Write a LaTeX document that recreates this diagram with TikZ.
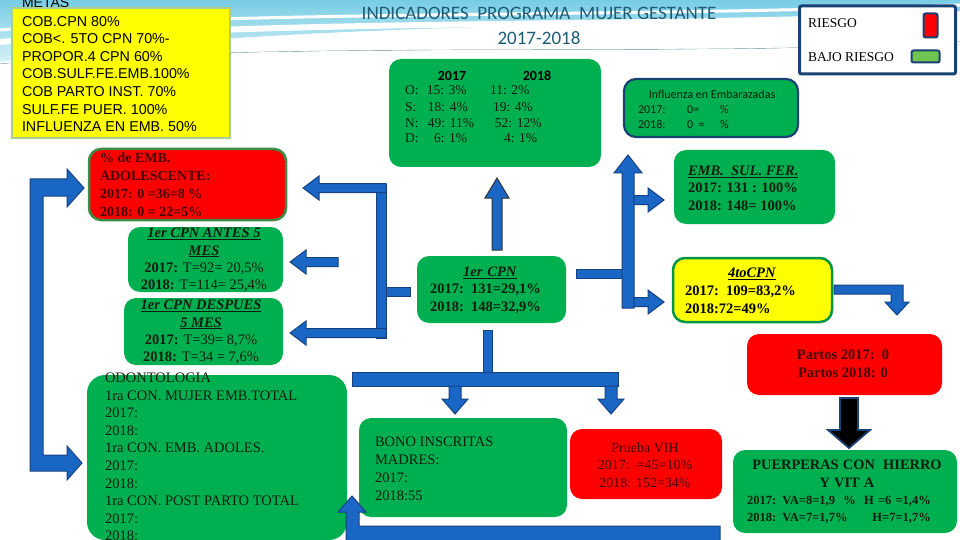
\documentclass[tikz,border=0pt]{standalone}
\usepackage{fontspec}
\setmainfont{Liberation Serif}
\newfontfamily\calib{Carlito}
\newfontfamily\arialf{Liberation Sans}
\definecolor{gbox}{RGB}{0,176,80}
\definecolor{rbox}{RGB}{255,0,0}
\definecolor{ybox}{RGB}{255,255,0}
\definecolor{ablue}{RGB}{26,102,196}
\definecolor{adark}{RGB}{22,66,130}
\definecolor{titlec}{RGB}{28,92,118}
\definecolor{legdark}{RGB}{25,65,115}
\definecolor{maroonc}{RGB}{70,0,0}
\definecolor{gtext}{RGB}{15,30,15}
\definecolor{adolb}{RGB}{60,140,70}
\definecolor{metab}{RGB}{170,205,140}
\definecolor{ltgreen}{RGB}{112,196,80}
\definecolor{sky1}{RGB}{120,205,228}
\definecolor{sky2}{RGB}{215,240,247}
\newcommand\fsz[2]{\fontsize{#1}{#2}\selectfont}
\newcommand\ulit[1]{\underline{\textit{#1}}}
\newcommand\larrow[3]{\fill[ablue,draw=adark,line width=1pt] (#1,#2) -- ({#1+16},{#2-12}) -- ({#1+16},{#2-4.5}) -- (#3,{#2-4.5}) -- (#3,{#2+4.5}) -- ({#1+16},{#2+4.5}) -- ({#1+16},{#2+12}) -- cycle;}
\newcommand\rarrow[3]{\fill[ablue,draw=adark,line width=1pt] (#1,#2) -- ({#1-16},{#2-12}) -- ({#1-16},{#2-4.5}) -- (#3,{#2-4.5}) -- (#3,{#2+4.5}) -- ({#1-16},{#2+4.5}) -- ({#1-16},{#2+12}) -- cycle;}
\newcommand\darrow[3]{\fill[ablue,draw=adark,line width=1pt] (#1,#2) -- ({#1-13},{#2-15}) -- ({#1-6},{#2-15}) -- ({#1-6},#3) -- ({#1+6},#3) -- ({#1+6},{#2-15}) -- ({#1+13},{#2-15}) -- cycle;}
\tikzset{
  box/.style={rounded corners=12pt, inner sep=0pt, outer sep=0pt},
  gbx/.style={box, fill=gbox},
  rbx/.style={box, fill=rbox},
  txt/.style={inner sep=0pt, outer sep=0pt},
  blk/.style={ablue, draw=adark, line width=1pt}
}
\begin{document}
\begin{tikzpicture}[x=1pt,y=-1pt]
\useasboundingbox (0,0) rectangle (960,540);
% background swoosh
\shade[top color=sky1, bottom color=sky2] (0,0) -- (960,0) -- (960,12) .. controls (700,28) and (300,18) .. (0,62) -- cycle;
\draw[white, line width=6pt] (0,42) .. controls (300,18) and (650,28) .. (960,14);
\draw[white, line width=3pt] (0,30) .. controls (250,10) and (600,18) .. (960,5);
\draw[titlec!70, line width=0.8pt] (0,64) .. controls (300,40) and (700,58) .. (960,42);
\fill[white] (0,64) .. controls (300,40) and (700,58) .. (960,42) -- (960,540) -- (0,540) -- cycle;

% title
\node[txt, text=titlec, font=\calib\fsz{19}{23}] (title1) at (539,13) {INDICADORES\ \ PROGRAMA\ \ MUJER GESTANTE};
\node[txt, text=titlec, font=\calib\fsz{19}{23}] (title2) at (539,38) {2017-2018};

% METAS
\node[txt, anchor=west, font=\arialf\fsz{14}{17}] (metasT) at (22,3) {METAS};
\node[fill=ybox, draw=metab, line width=2pt, minimum width=218pt, minimum height=130pt, inner sep=0pt] (metas) at (121,73) {};
\node[txt, anchor=west, align=left, font=\arialf\fsz{14.3}{17.6}] (metasL) at (22,74) {COB.CPN 80\%\\COB<. 5TO CPN 70\%-\\PROPOR.4 CPN 60\%\\COB.SULF.FE.EMB.100\%\\COB PARTO INST. 70\%\\SULF.FE PUER. 100\%\\INFLUENZA EN EMB. 50\%};

% legend
\node[draw=legdark, line width=3pt, fill=white, rounded corners=2pt, minimum width=156pt, minimum height=68pt, inner sep=0pt] (legend) at (877.5,40) {};
\node[txt, anchor=west, font=\fsz{13.5}{16}] (legR) at (808,23) {RIESGO};
\node[fill=rbox, draw=legdark, line width=2pt, rounded corners=2pt, minimum width=14pt, minimum height=24pt, inner sep=0pt] (legRbox) at (930.5,25.5) {};
\node[txt, anchor=west, font=\fsz{13.5}{16}] (legB) at (808,57) {BAJO RIESGO};
\node[fill=ltgreen, draw=legdark, line width=2pt, rounded corners=2pt, minimum width=28pt, minimum height=12pt, inner sep=0pt] (legBbox) at (925.5,56.5) {};

% 2017/2018 months box
\node[gbx, minimum width=212pt, minimum height=108pt] (months) at (495,113) {};
\node[txt, font=\calib\bfseries\fsz{14}{16}] (h17) at (452,76) {2017};
\node[txt, font=\calib\bfseries\fsz{14}{16}] (h18) at (537,76) {2018};
\node[txt, anchor=west, text=gtext, font=\fsz{13.5}{16}] (rowO) at (405,90) {\makebox[22pt][l]{O:}\makebox[63pt][l]{15: 3\%}11: 2\%};
\node[txt, anchor=west, text=gtext, font=\fsz{13.5}{16}] (rowS) at (405,107) {\makebox[23pt][l]{S:}\makebox[65pt][l]{18: 4\%}19: 4\%};
\node[txt, anchor=west, text=gtext, font=\fsz{13.5}{16}] (rowN) at (405,123) {\makebox[23pt][l]{N:}\makebox[67pt][l]{49: 11\%}52: 12\%};
\node[txt, anchor=west, text=gtext, font=\fsz{13.5}{16}] (rowD) at (405,138) {\makebox[29pt][l]{D:}\makebox[70pt][l]{6: 1\%}4: 1\%};

% influenza box
\node[gbx, draw=legdark, line width=2.2pt, minimum width=174pt, minimum height=58pt] (influ) at (711,108) {};
\node[txt, text=gtext, font=\calib\fsz{12}{14}] (influT) at (712,94) {Influenza en Embarazadas};
\node[txt, anchor=west, text=gtext, font=\calib\fsz{12}{14}] (influ17) at (638,109) {\makebox[49pt][l]{2017:}\makebox[33pt][l]{0=}\%};
\node[txt, anchor=west, text=gtext, font=\calib\fsz{12}{14}] (influ18) at (638,124) {\makebox[49pt][l]{2018:}\makebox[33pt][l]{0\ \ =}\%};

% left column
\node[rbx, draw=adolb, line width=2.5pt, minimum width=197pt, minimum height=71pt] (adol) at (187.5,184.5) {};
\node[txt, anchor=west, align=left, text=maroonc, font=\bfseries\fsz{14}{18}] (adolT) at (100,185) {\% de EMB.\\ADOLESCENTE:\\2017: 0 =36=8 \%\\2018: 0 = 22=5\%};

\node[gbx, minimum width=155pt, minimum height=65pt] (antes) at (205.5,259.5) {};
\node[txt, align=center, text=gtext, font=\fsz{14.5}{17.3}] (antesT) at (204,260) {\textbf{\ulit{1er CPN ANTES 5}}\\\textbf{\ulit{MES}}\\\textbf{2017:} T=92= 20,5\%\\\textbf{2018:} T=114= 25,4\%};

\node[gbx, minimum width=159pt, minimum height=67pt] (despues) at (203.5,331.5) {};
\node[txt, align=center, text=gtext, font=\fsz{14.5}{17.3}] (despuesT) at (201,332) {\textbf{\ulit{1er CPN DESPUES}}\\\textbf{\ulit{5 MES}}\\\textbf{2017:} T=39= 8,7\%\\\textbf{2018:} T=34 = 7,6\%};

\node[gbx, rounded corners=18pt, minimum width=260pt, minimum height=165pt] (odonto) at (217,457.5) {};
\node[txt, anchor=west, align=left, text=gtext, font=\fsz{14.5}{17.6}] (odontoT) at (105,457) {ODONTOLOGIA\\1ra CON. MUJER EMB.TOTAL\\2017:\\2018:\\1ra CON. EMB. ADOLES.\\2017:\\2018:\\1ra CON. POST PARTO TOTAL\\2017:\\2018:};

% centre
\node[gbx, minimum width=149pt, minimum height=67pt] (cpn) at (491.5,289.5) {};
\node[txt, anchor=west, align=left, text width=120pt, text=gtext, font=\bfseries\fsz{14.5}{17.5}] (cpnT) at (430,290) {\makebox[120pt][c]{\ulit{1er CPN}}\\2017: 131=29,1\%\\2018: 148=32,9\%};

\node[gbx, minimum width=208pt, minimum height=99pt] (bono) at (463,467.5) {};
\node[txt, anchor=west, align=left, text=gtext, font=\fsz{14.5}{18}] (bonoT) at (375,469) {BONO INSCRITAS\\MADRES:\\2017:\\2018:55};

\node[rbx, minimum width=152pt, minimum height=70pt] (vih) at (646,464) {};
\node[txt, align=center, text=maroonc, font=\fsz{14}{17.5}] (vihT) at (645,465) {Prueba VIH\\2017:\ \ =45=10\%\\2018: 152=34\%};

% right column
\node[gbx, minimum width=161pt, minimum height=74pt] (sulfer) at (754.5,187) {};
\node[txt, anchor=west, align=left, text=gtext, font=\bfseries\fsz{14.5}{17.5}] (sulferT) at (688,188) {\ulit{EMB.\ \ SUL. FER.}\\2017: 131 : 100\%\\2018: 148= 100\%};

\node[box, fill=ybox, draw=gbox!85!black, line width=2.5pt, minimum width=159pt, minimum height=64pt] (cuarto) at (752.5,290) {};
\node[txt, anchor=west, align=left, text width=134pt, font=\bfseries\fsz{14.5}{18}] (cuartoT) at (685,291) {\makebox[134pt][c]{\ulit{4toCPN}}\\2017: 109=83,2\%\\2018:72=49\%};

\node[rbx, minimum width=195pt, minimum height=61pt] (partos) at (844.5,364.5) {};
\node[txt, align=center, text=maroonc, font=\bfseries\fsz{14.5}{18}] (partosT) at (843,364) {Partos 2017:\ \ 0\\Partos 2018: 0};

\node[gbx, minimum width=224pt, minimum height=83pt] (puerp) at (845,491.5) {};
\node[txt, anchor=west, align=left, text width=200pt, text=gtext, font=\bfseries\fsz{12.5}{17.3}] (puerpT) at (747,492) {\makebox[200pt][c]{\fsz{14.4}{17}PUERPERAS CON\ \ HIERRO}\\\makebox[200pt][c]{\fsz{14.4}{17}Y VIT A}\\2017: VA=8=1,9\ \ \%\ \ H =6 =1,4\%\\2018: VA=7=1,7\%\ \ \ \ \ \ H=7=1,7\%};

% ---- block arrows ----
% left bracket
\fill[blk] (30,179) -- (67,179) -- (67,169) -- (84,188) -- (67,207) -- (67,196) -- (43,196) -- (43,455) -- (67,455) -- (67,446) -- (82,463) -- (67,480) -- (67,471) -- (30,471) -- cycle;
% middle-left bracket
\fill[blk] (376,184) rectangle (386,338);
\larrow{303}{188}{386}
\larrow{290}{262}{338}
\larrow{290}{333}{386}
\fill[blk] (386,287) rectangle (410,296);
% up arrow to months box
\fill[ablue, draw=black!80, line width=1pt] (497,178) -- (509,198) -- (502,198) -- (502,250) -- (492,250) -- (492,198) -- (485,198) -- cycle;
% right bracket
\fill[blk] (576,269) rectangle (626,278);
\fill[blk] (628,155) -- (642,173) -- (634,173) -- (634,308) -- (622,308) -- (622,173) -- (614,173) -- cycle;
\rarrow{664}{200}{634}
\rarrow{664}{302}{634}
% bottom tree
\fill[blk] (483,330) rectangle (492,373);
\fill[blk] (352,372) rectangle (618,386);
\darrow{455}{414}{386}
\darrow{611}{414}{386}
% bottom hook
\fill[blk] (720,526) -- (359,526) -- (359,512) -- (366,512) -- (352,496) -- (338,512) -- (346,512) -- (346,541) -- (720,541) -- cycle;
% 4to -> partos
\fill[blk] (834,285) -- (903,285) -- (903,302) -- (909,302) -- (897,315) -- (885,302) -- (891,302) -- (891,294) -- (834,294) -- cycle;
% partos -> puerperas
\fill[black, draw=legdark, line width=1.8pt] (840,398) -- (858,398) -- (858,430) -- (870,430) -- (849,448) -- (828,430) -- (840,430) -- cycle;
\end{tikzpicture}
\end{document}
